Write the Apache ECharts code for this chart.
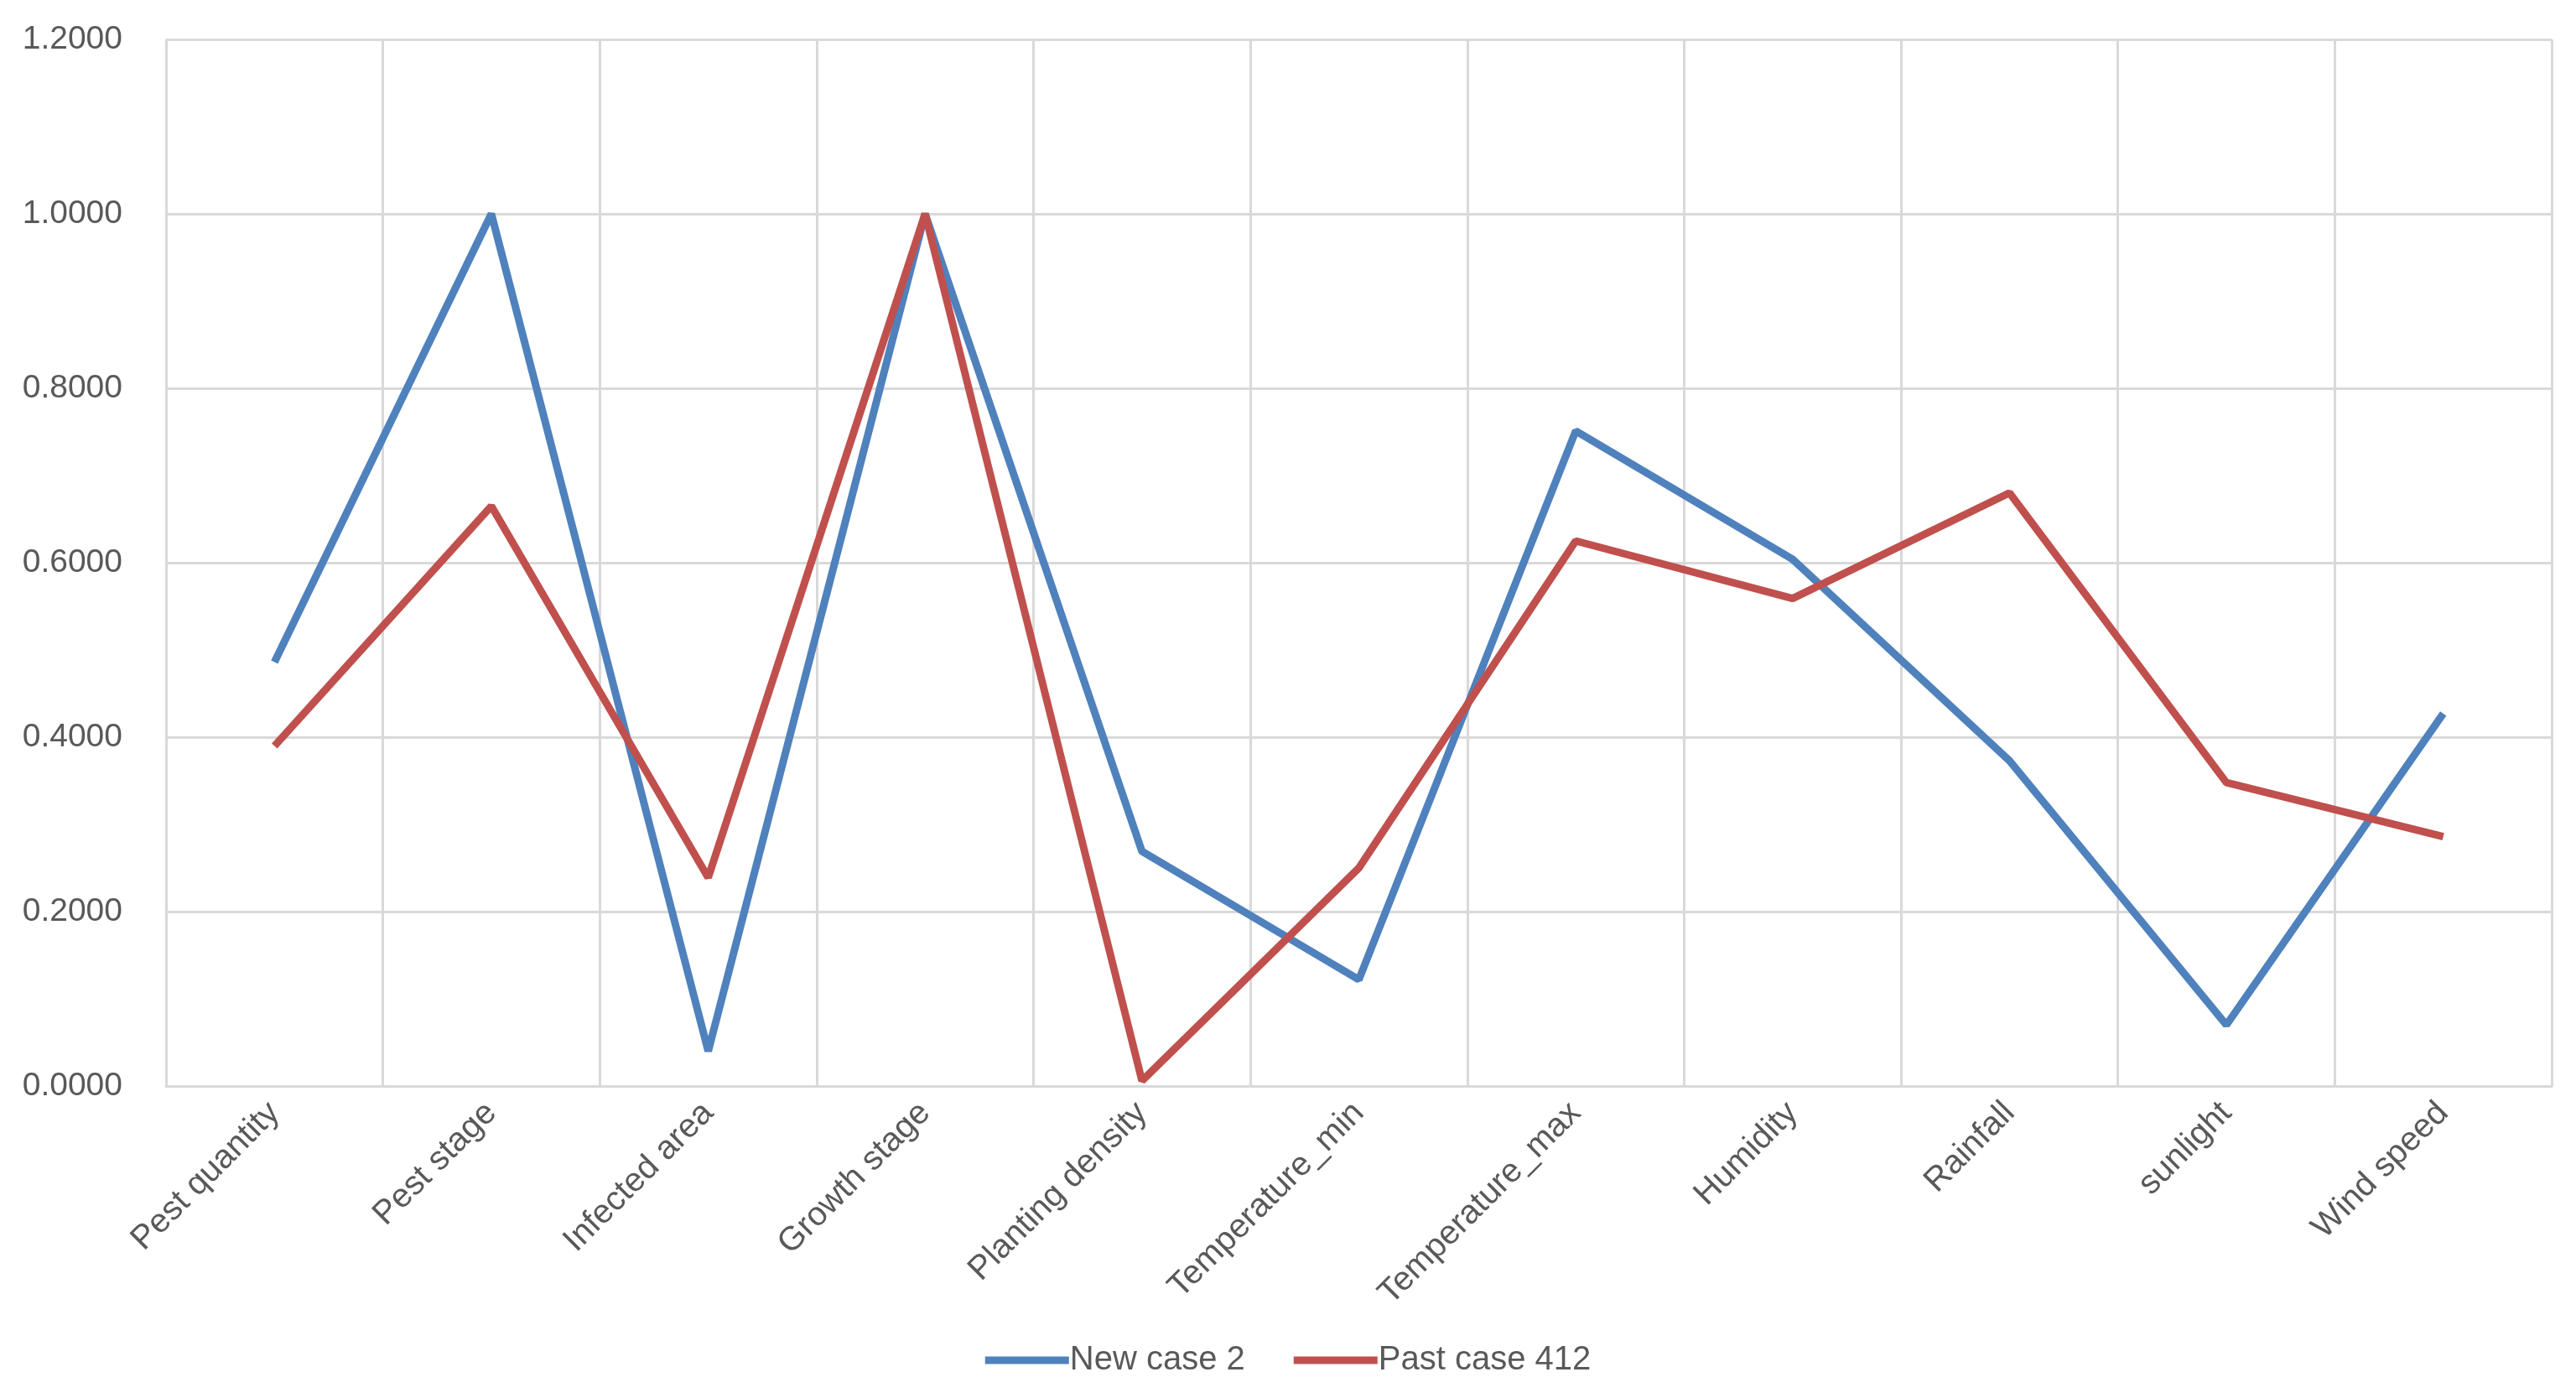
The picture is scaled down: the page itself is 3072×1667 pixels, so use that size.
<!DOCTYPE html>
<html><head><meta charset="utf-8">
<script src="https://cdn.jsdelivr.net/npm/echarts@6/dist/echarts.min.js"></script>
<style>html,body{margin:0;padding:0;background:#fff}#c{width:3072px;height:1667px}</style>
</head><body><div id="c"></div>
<script>
const categories = ["Pest quantity","Pest stage","Infected area","Growth stage","Planting density","Temperature_min","Temperature_max","Humidity","Rainfall","sunlight","Wind speed"];
const newCase2 = [0.486, 1.0, 0.040, 1.0, 0.269, 0.122, 0.751, 0.604, 0.373, 0.070, 0.427];
const pastCase412 = [0.390, 0.665, 0.239, 1.0, 0.006, 0.250, 0.625, 0.559, 0.680, 0.348, 0.286];
const seriesNames = ["New case 2", "Past case 412"];

const font = "Liberation Sans";
const chart = echarts.init(document.getElementById('c'));
chart.setOption({
  backgroundColor: '#fff',
  animation: false,
  grid: {left: 198, right: 29, top: 47, bottom: 372, containLabel: false},
  legend: {
    bottom: 20, left: 'center',
    itemWidth: 100, itemHeight: 9, itemGap: 58,
    icon: 'rect',
    textStyle: {fontFamily: font, fontSize: 40, color: '#595959', padding: [0,0,0,-4]},
    data: seriesNames
  },
  xAxis: {
    type: 'category', data: categories, boundaryGap: true,
    axisLine: {show: true, lineStyle: {color: '#d9d9d9', width: 3}},
    axisTick: {show: false},
    splitLine: {show: true, interval: 0, lineStyle: {color: '#d9d9d9', width: 3}},
    axisLabel: {interval: 0, rotate: 45, margin: 26, fontFamily: font, fontSize: 40, color: '#595959'}
  },
  yAxis: {
    type: 'value', min: 0, max: 1.2, interval: 0.2,
    axisLine: {show: false}, axisTick: {show: false},
    splitLine: {lineStyle: {color: '#d9d9d9', width: 3}},
    axisLabel: {margin: 52, fontFamily: font, fontSize: 39, color: '#595959', formatter: v => v.toFixed(4)}
  },
  series: [
    {name: seriesNames[0], type: 'line', data: newCase2, symbol: 'none', lineStyle: {width: 9, color: '#4F81BD'}, itemStyle: {color: '#4F81BD'}},
    {name: seriesNames[1], type: 'line', data: pastCase412, symbol: 'none', lineStyle: {width: 9, color: '#C0504D'}, itemStyle: {color: '#C0504D'}}
  ]
});
</script></body></html>
